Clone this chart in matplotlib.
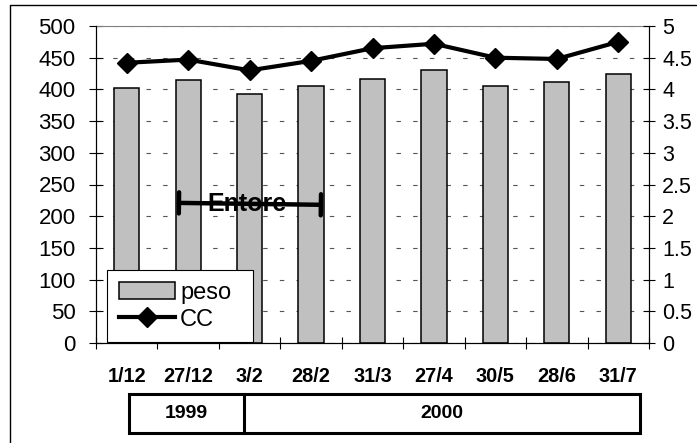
import numpy as np
import matplotlib
matplotlib.use("Agg")
import matplotlib.pyplot as plt
from matplotlib.patches import Rectangle, Patch
from matplotlib.lines import Line2D

plt.rcParams['font.family'] = ['Liberation Sans', 'DejaVu Sans']

dates = ['1/12', '27/12', '3/2', '28/2', '31/3', '27/4', '30/5', '28/6', '31/7']
peso = [402, 415, 393, 405, 417, 430, 405, 412, 424]
cc = [4.42, 4.47, 4.30, 4.45, 4.65, 4.72, 4.50, 4.48, 4.75]
entore = (0.85, 3.16)        # period in category positions
entore_y = (221, 218)
years = ['1999', '2000']

W, H = 697, 443
fig = plt.figure(figsize=(W / 100, H / 100), dpi=100)


def fx(px):
    return px / W


def fy(py):
    return 1 - py / H


ax = fig.add_axes([fx(96), fy(343), fx(649) - fx(96), fy(26) - fy(343)])
x = np.arange(len(dates))

ax.bar(x, peso, width=0.41, color='#c0c0c0', edgecolor='black', linewidth=1.1, zorder=2)
ax.set_xlim(-0.5, len(dates) - 0.5)
ax.set_ylim(0, 500)
ax.set_yticks(np.arange(0, 501, 50))
ax.set_xticks(np.arange(-0.5, len(dates)), [''] * (len(dates) + 1))
ax.set_xticks(x, dates, minor=True)
ax.tick_params(axis='x', which='major', direction='inout', length=8, width=0.8)
ax.tick_params(axis='x', which='minor', length=0, pad=17, labelsize=14.3)
for t in ax.get_xticklabels(minor=True):
    t.set_fontweight('bold')
ax.tick_params(axis='y', direction='inout', length=9.5, width=0.8, pad=10, labelsize=16)
ax.yaxis.grid(True, color='#555555', linewidth=0.8, dashes=(4, 11))
ax.set_axisbelow(True)
ax.spines['top'].set_color('#808080')
ax.spines['top'].set_linewidth(0.8)
for s in ['left', 'bottom', 'right']:
    ax.spines[s].set_linewidth(0.8)

ax.annotate('', xy=(entore[1], entore_y[1]), xytext=(entore[0], entore_y[0]),
            arrowprops=dict(arrowstyle='|-|,widthA=0.38,widthB=0.38', lw=3.2,
                            color='black', shrinkA=0, shrinkB=0, mutation_scale=20),
            zorder=5)
ax.text(np.mean(entore) - 0.05, np.mean(entore_y), 'Entore', ha='center', va='center',
        fontsize=18, fontweight='bold', zorder=6)

ax2 = ax.twinx()
ax2.plot(x, cc, color='black', linewidth=3, marker='D', markersize=10, zorder=4)
ax2.set_ylim(0, 5)
ax2.set_yticks(np.arange(0, 5.01, 0.5), ['0', '0.5', '1', '1.5', '2', '2.5', '3', '3.5', '4', '4.5', '5'])
ax2.tick_params(axis='y', direction='inout', length=9, width=0.8, pad=5, labelsize=15.5)
ax2.spines['top'].set_visible(False)
ax2.spines['right'].set_linewidth(0.8)

handles = [Patch(facecolor='#c0c0c0', edgecolor='black', linewidth=1.1),
           Line2D([], [], color='black', linewidth=3, marker='D', markersize=10)]
leg = ax2.legend(handles, ['peso', 'CC'], loc='upper left', mode='expand',
                 bbox_to_anchor=(fx(107), fy(339), fx(253) - fx(107), fy(270) - fy(339)),
                 bbox_transform=fig.transFigure,
                 borderaxespad=0, fontsize=17, handlelength=2.4, handletextpad=0.2,
                 labelspacing=0.2, borderpad=0.5, fancybox=False, framealpha=1,
                 edgecolor='black')
leg.get_frame().set_linewidth(0.8)

# year boxes under the axis
fig.patches.append(Rectangle((fx(129), fy(433)), fx(640) - fx(129), fy(394) - fy(433),
                             transform=fig.transFigure, fill=False, edgecolor='black',
                             linewidth=2.2))
fig.lines.append(Line2D([fx(244), fx(244)], [fy(394), fy(433)], transform=fig.transFigure,
                        color='black', linewidth=2.2))
fig.text(fx(186), fy(413), years[0], ha='center', va='center', fontsize=14, fontweight='bold')
fig.text(fx(442), fy(413), years[1], ha='center', va='center', fontsize=14, fontweight='bold')

# outer frame
fig.lines.append(Line2D([fx(10), fx(10), fx(700)], [fy(450), fy(5), fy(5)],
                        transform=fig.transFigure, color='black', linewidth=1))

fig.savefig('out.png', dpi=100)
